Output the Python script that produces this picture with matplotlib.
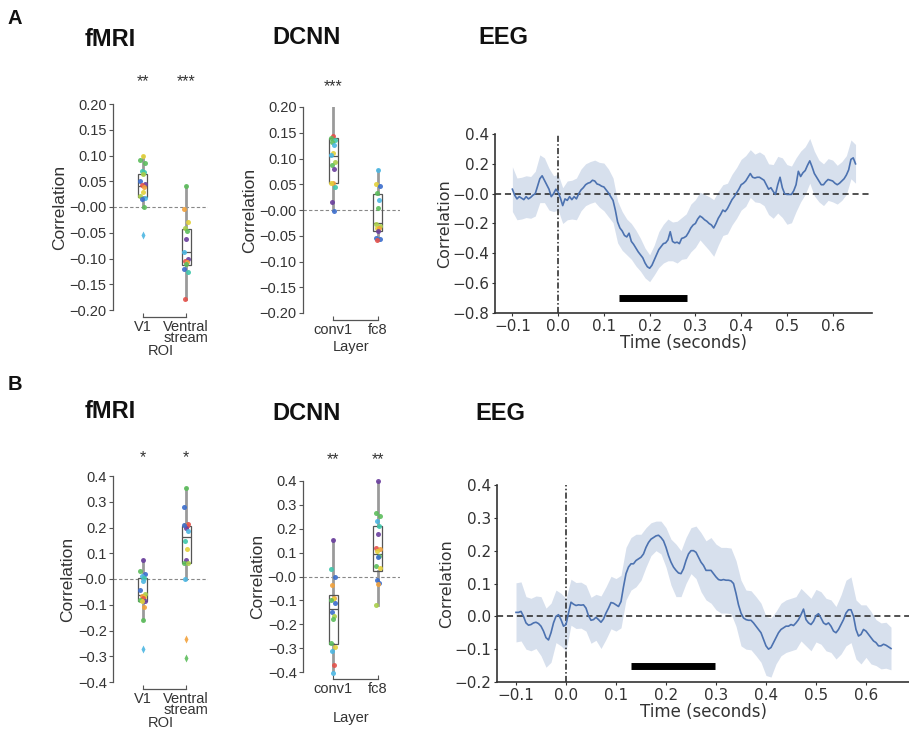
import numpy as np
import matplotlib
matplotlib.use("Agg")
import matplotlib.pyplot as plt

W, H = 909, 732
fig = plt.figure(figsize=(W / 100, H / 100), dpi=100)

# ---------------- DATA ----------------
roi_labels = ["V1", "Ventral\nstream"]
layer_labels = ["conv1", "fc8"]

# Panel A fMRI
A_fmri_v1 = [0.100, 0.092, 0.085, 0.070, 0.068, 0.065, 0.051, 0.045, 0.042, 0.038, 0.029, 0.022, 0.018, 0.016, 0.000]
A_fmri_v1_col = list("yggttlbproylcbg")
A_fmri_v1_fl = [-0.055]
A_fmri_v1_flcol = list("c")
A_fmri_vs = [0.040, -0.003, -0.030, -0.040, -0.046, -0.063, -0.088, -0.100, -0.105, -0.107, -0.110, -0.121, -0.126, -0.178]
A_fmri_vs_col = list("goylgpcprogbtr")
A_fmri_stats = [(0.000, 0.020, 0.040, 0.065, 0.100), (-0.178, -0.112, -0.088, -0.042, 0.040)]
A_fmri_stars = ["**", "***"]

# Panel A DCNN
A_dcnn_c1 = [0.143, 0.140, 0.135, 0.133, 0.126, 0.111, 0.106, 0.094, 0.088, 0.079, 0.053, 0.052, 0.045, 0.016, -0.002]
A_dcnn_c1_col = list("rgtgcyclgpoytpb")
A_dcnn_fc8 = [0.078, 0.051, 0.046, 0.033, 0.020, 0.004, -0.027, -0.031, -0.035, -0.034, -0.040, -0.054, -0.056, -0.058]
A_dcnn_fc8_col = list("cybgcgllyopbbr")
A_dcnn_stats = [(0.000, 0.052, 0.105, 0.140, 0.200), (-0.058, -0.040, -0.025, 0.031, 0.077)]
A_dcnn_stars = ["***", ""]

# Panel B fMRI
B_fmri_v1 = [0.072, 0.030, 0.021, 0.012, 0.005, -0.009, -0.042, -0.060, -0.066, -0.070, -0.075, -0.082, -0.085, -0.085, -0.107, -0.160]
B_fmri_v1_col = list("pgbctcbloyrgpyog")
B_fmri_v1_fl = [-0.271]
B_fmri_v1_flcol = list("c")
B_fmri_vs = [0.355, 0.279, 0.212, 0.210, 0.205, 0.200, 0.208, 0.188, 0.148, 0.115, 0.075, 0.063, 0.062, 0.000]
B_fmri_vs_col = list("gbrorpbctypglc")
B_fmri_vs_fl = [-0.232, -0.308]
B_fmri_vs_flcol = list("og")
B_fmri_stats = [(-0.160, -0.085, -0.063, 0.005, 0.072), (0.000, 0.063, 0.165, 0.206, 0.355)]
B_fmri_stars = ["*", "*"]

# Panel B DCNN
B_dcnn_c1 = [0.154, 0.031, 0.000, -0.034, -0.091, -0.095, -0.100, -0.111, -0.150, -0.165, -0.178, -0.278, -0.295, -0.312, -0.372, -0.403]
B_dcnn_c1_col = list("ptbooygbblggycrc")
B_dcnn_fc8 = [0.400, 0.267, 0.255, 0.233, 0.210, 0.180, 0.119, 0.115, 0.105, 0.087, 0.081, 0.044, 0.035, -0.013, -0.028, -0.030, -0.119]
B_dcnn_fc8_col = list("pggctproygbgybbol")
B_dcnn_stats = [(-0.403, -0.281, -0.136, -0.079, 0.154), (-0.119, 0.025, 0.095, 0.213, 0.400)]
B_dcnn_stars = ["**", "**"]

# EEG time grid (seconds)
eeg_t = np.round(np.arange(-0.100, 0.6501, 0.005), 3)
eeg_t_band = np.round(np.arange(-0.10, 0.6501, 0.01), 2)

A_eeg = [0.03, -0.01, -0.035, -0.02, -0.03, -0.04, -0.02, -0.035, -0.025, -0.01,
         0.00, 0.05, 0.10, 0.12, 0.09, 0.06, 0.03, -0.02, 0.00, 0.03,
         0.01, -0.03, -0.08, -0.035, -0.045, -0.02, -0.04, -0.02, -0.035, 0.00,
         0.025, 0.04, 0.06, 0.07, 0.075, 0.09, 0.085, 0.065, 0.06, 0.05,
         0.045, 0.025, 0.005, -0.02, -0.045, -0.11, -0.19, -0.23, -0.25, -0.28,
         -0.29, -0.265, -0.32, -0.34, -0.365, -0.39, -0.41, -0.43, -0.465, -0.49,
         -0.50, -0.48, -0.445, -0.41, -0.375, -0.355, -0.335, -0.33, -0.31, -0.255,
         -0.32, -0.33, -0.325, -0.335, -0.30, -0.295, -0.285, -0.26, -0.23, -0.21,
         -0.20, -0.17, -0.15, -0.16, -0.175, -0.185, -0.20, -0.21, -0.23, -0.20,
         -0.165, -0.14, -0.11, -0.12, -0.10, -0.07, -0.04, -0.02, 0.005, 0.03,
         0.06, 0.07, 0.085, 0.11, 0.135, 0.11, 0.105, 0.11, 0.11, 0.10,
         0.09, 0.06, 0.03, 0.04, 0.015, -0.005, 0.06, 0.11, 0.04, 0.00,
         -0.005, -0.005, -0.005, 0.02, 0.06, 0.15, 0.115, 0.14, 0.155, 0.19,
         0.22, 0.18, 0.135, 0.11, 0.085, 0.06, 0.06, 0.08, 0.095, 0.09,
         0.085, 0.07, 0.06, 0.07, 0.085, 0.10, 0.125, 0.16, 0.23, 0.24,
         0.20]
A_eeg_sem = [0.15, 0.14, 0.14, 0.14, 0.14, 0.15, 0.16, 0.15, 0.14, 0.12,
             0.12, 0.12, 0.13, 0.13, 0.14, 0.14, 0.14, 0.14, 0.14, 0.15,
             0.16, 0.16, 0.15, 0.14, 0.13, 0.12, 0.12, 0.12, 0.11, 0.10,
             0.09, 0.10, 0.12, 0.13, 0.14, 0.13, 0.14, 0.14, 0.15, 0.16,
             0.16, 0.16, 0.17, 0.18, 0.19, 0.18, 0.17, 0.17, 0.17, 0.17,
             0.17, 0.17, 0.16, 0.16, 0.17, 0.17, 0.17, 0.18, 0.19, 0.20,
             0.20, 0.19, 0.18, 0.17, 0.16, 0.15, 0.15, 0.14, 0.14, 0.14,
             0.14, 0.13, 0.13, 0.13, 0.13, 0.13]
A_sig = (0.133, 0.281)
A_sig_y = -0.70

B_eeg = [0.012, 0.012, 0.015, 0.0, -0.02, -0.027, -0.025, -0.02, -0.018, -0.022,
         -0.03, -0.045, -0.065, -0.072, -0.05, -0.02, 0.0, 0.005, -0.01, -0.03,
         -0.025, 0.01, 0.043, 0.037, 0.033, 0.035, 0.034, 0.035, 0.025, 0.002,
         -0.012, -0.01, -0.003, -0.01, -0.018, -0.008, 0.01, 0.025, 0.042, 0.04,
         0.035, 0.03, 0.045, 0.09, 0.13, 0.15, 0.16, 0.16, 0.17, 0.175,
         0.18, 0.19, 0.21, 0.225, 0.235, 0.24, 0.245, 0.247, 0.24, 0.23,
         0.21, 0.185, 0.165, 0.15, 0.14, 0.132, 0.13, 0.145, 0.17, 0.19,
         0.20, 0.20, 0.195, 0.18, 0.165, 0.155, 0.14, 0.14, 0.14, 0.13,
         0.12, 0.112, 0.11, 0.112, 0.11, 0.11, 0.108, 0.10, 0.07, 0.035,
         0.01, -0.005, -0.01, -0.012, -0.012, -0.02, -0.03, -0.04, -0.05, -0.07,
         -0.09, -0.10, -0.095, -0.08, -0.065, -0.05, -0.04, -0.035, -0.03, -0.03,
         -0.025, -0.028, -0.02, -0.01, 0.005, 0.022, -0.01, -0.02, -0.025, -0.015,
         0.002, 0.008, -0.005, -0.02, -0.025, -0.02, -0.03, -0.045, -0.05, -0.04,
         -0.025, -0.01, 0.01, 0.02, 0.02, 0.0, -0.04, -0.06, -0.055, -0.04,
         -0.045, -0.055, -0.065, -0.075, -0.08, -0.09, -0.09, -0.085, -0.088, -0.093,
         -0.098]
B_eeg_sem = [0.09, 0.09, 0.08, 0.08, 0.08, 0.09, 0.09, 0.09, 0.08, 0.08,
             0.08, 0.07, 0.07, 0.07, 0.07, 0.07, 0.07, 0.08, 0.08, 0.08,
             0.08, 0.08, 0.08, 0.08, 0.08, 0.07, 0.06, 0.05, 0.045, 0.05,
             0.06, 0.07, 0.08, 0.07, 0.07, 0.07, 0.08, 0.09, 0.09, 0.10,
             0.10, 0.10, 0.10, 0.10, 0.10, 0.10, 0.09, 0.09, 0.09, 0.09,
             0.09, 0.09, 0.08, 0.08, 0.08, 0.08, 0.08, 0.08, 0.08, 0.08,
             0.08, 0.08, 0.08, 0.08, 0.08, 0.09, 0.10, 0.10, 0.09, 0.09,
             0.08, 0.08, 0.07, 0.07, 0.07, 0.065]
B_sig = (0.130, 0.297)
B_sig_y = -0.152

# ---------------- STYLE ----------------
palette = {'r': '#e5524b', 'o': '#f2a23c', 'y': '#e3d13b', 'l': '#a9cf4b',
           'g': '#5dbd5c', 't': '#3fc7ab', 'c': '#4cb6e2', 'b': '#3b6dcc',
           'p': '#6b3f9e'}
ARIAL = "Liberation Sans"
DEJAVU = "DejaVu Sans"
TXT = "#333333"


def px_axes(left, top, right, bottom):
    return fig.add_axes([left / W, 1 - bottom / H, (right - left) / W, (bottom - top) / H])


jit = [0.0, -0.05, 0.05, -0.025, 0.025]


def box_panel(ax, groups, cols, fliers, flcols, stats, labels, xlabel, ylim, yticks, yfmt, stars, star_y, xlab_y):
    ax.set_xlim(-0.68, 1.5)
    ax.set_ylim(*ylim)
    ax.axhline(0, color="#888888", lw=0.8, ls=(0, (3, 2)), zorder=0)
    bxps = []
    for s in stats:
        bxps.append(dict(whislo=s[0], q1=s[1], med=s[2], q3=s[3], whishi=s[4], fliers=[]))
    ax.bxp(bxps, positions=[0, 1], widths=0.21, showcaps=False, showfliers=False,
           patch_artist=True,
           boxprops=dict(facecolor="none", edgecolor="#555555", lw=0.9, zorder=3),
           whiskerprops=dict(color="#9a9a9a", lw=2.0, zorder=1),
           medianprops=dict(color="#555555", lw=0.9, zorder=3))
    for gi in range(2):
        for k, (v, c) in enumerate(zip(groups[gi], cols[gi])):
            ax.plot(gi + jit[k % 5], v, 'o', ms=3.6, color=palette[c], mec='none', alpha=0.9,
                    zorder=4, clip_on=False)
        for v, c in zip(fliers[gi], flcols[gi]):
            ax.plot(gi, v, 'd', ms=3.6, color=palette[c], mec='none', alpha=0.9, zorder=4, clip_on=False)
        if stars[gi]:
            ax.text(gi, star_y, stars[gi], transform=ax.get_xaxis_transform(), ha='center', va='center',
                    fontsize=11.5, color=TXT, family=ARIAL)
    for sp in ("top", "right"):
        ax.spines[sp].set_visible(False)
    ax.spines["left"].set_bounds(ylim[0], ylim[1])
    ax.spines["bottom"].set_bounds(0, 1)
    ax.spines["bottom"].set_position(("outward", 5))
    for sp in ("left", "bottom"):
        ax.spines[sp].set_color("#555555")
        ax.spines[sp].set_linewidth(0.9)
    ax.set_xticks([0, 1])
    ax.set_xticklabels(labels, family=ARIAL, fontsize=10.5, color=TXT, linespacing=0.78)
    ax.set_yticks(yticks)
    ax.set_yticklabels([yfmt.format(t).replace("-", "\u2212") for t in yticks], family=ARIAL,
                       fontsize=10.5, color=TXT)
    ax.tick_params(axis='x', direction='in', length=3, pad=2, color="#555555")
    ax.tick_params(axis='y', direction='out', length=3, pad=1.5, color="#555555")
    ax.set_xlabel(xlabel, family=ARIAL, fontsize=10.5, color=TXT)
    ax.xaxis.set_label_coords(0.5, xlab_y)
    ax.xaxis.label.set_va('center')
    ax.set_ylabel("Correlation", family=ARIAL, fontsize=12.5, color=TXT, labelpad=2)
    ax.patch.set_visible(False)


def eeg_panel(ax, mean, sem, sig, sig_y, ylim, yticks):
    mean = np.asarray(mean)
    sem = np.asarray(sem)
    ax.set_xlim(-0.138, 0.686)
    ax.set_ylim(*ylim)
    m2 = mean[::2]
    ax.fill_between(eeg_t_band, m2 - sem, m2 + sem, color="#4c72b0", alpha=0.22, lw=0, zorder=1)
    ax.plot(eeg_t, mean, color="#4c72b0", lw=1.2, zorder=3)
    ax.axhline(0, color="#222222", lw=1.1, ls=(0, (4, 2.5)), zorder=2)
    ax.axvline(0, color="#222222", lw=1.1, ls=(0, (4, 1.5, 1, 1.5)), zorder=2)
    ax.plot(list(sig), [sig_y, sig_y], color="black", lw=5, solid_capstyle="butt", zorder=4)
    for sp in ("top", "right"):
        ax.spines[sp].set_visible(False)
    for sp in ("left", "bottom"):
        ax.spines[sp].set_color("#333333")
        ax.spines[sp].set_linewidth(1.2)
    xt = [-0.1, 0.0, 0.1, 0.2, 0.3, 0.4, 0.5, 0.6]
    ax.set_xticks(xt)
    ax.set_xticklabels(["{:.1f}".format(t).replace("-", "\u2212") for t in xt], family=DEJAVU,
                       fontsize=11, color=TXT)
    ax.set_yticks(yticks)
    ax.set_yticklabels(["{:.1f}".format(t).replace("-", "\u2212") for t in yticks], family=DEJAVU,
                       fontsize=11, color=TXT)
    ax.tick_params(direction='out', length=2.5, pad=1.5, color="#333333")
    ax.set_xlabel("Time (seconds)", family=DEJAVU, fontsize=12, color=TXT, labelpad=0)
    ax.set_ylabel("Correlation", family=DEJAVU, fontsize=11.5, color=TXT, labelpad=0)
    ax.patch.set_visible(False)


# ---------------- PANEL A ----------------
ax = px_axes(113, 104, 208, 310)
box_panel(ax, [A_fmri_v1, A_fmri_vs], [A_fmri_v1_col, A_fmri_vs_col], [A_fmri_v1_fl, []], [A_fmri_v1_flcol, []],
          A_fmri_stats, roi_labels, "ROI", (-0.2, 0.2), np.round(np.arange(-0.2, 0.2001, 0.05), 2), "{:.2f}",
          A_fmri_stars, 1.11, -0.198)
ax = px_axes(303, 107, 400, 313)
box_panel(ax, [A_dcnn_c1, A_dcnn_fc8], [A_dcnn_c1_col, A_dcnn_fc8_col], [[], []], [[], []],
          A_dcnn_stats, layer_labels, "Layer", (-0.2, 0.2), np.round(np.arange(-0.2, 0.2001, 0.05), 2), "{:.2f}",
          A_dcnn_stars, 1.10, -0.163)
ax = px_axes(495, 134, 872, 313)
eeg_panel(ax, A_eeg, A_eeg_sem, A_sig, A_sig_y, (-0.8, 0.4), np.round(np.arange(-0.8, 0.401, 0.2), 1))

# ---------------- PANEL B ----------------
ax = px_axes(113, 476, 208, 682)
box_panel(ax, [B_fmri_v1, B_fmri_vs], [B_fmri_v1_col, B_fmri_vs_col], [B_fmri_v1_fl, B_fmri_vs_fl],
          [B_fmri_v1_flcol, B_fmri_vs_flcol],
          B_fmri_stats, roi_labels, "ROI", (-0.4, 0.4), np.round(np.arange(-0.4, 0.401, 0.1), 1), "{:.1f}",
          B_fmri_stars, 1.09, -0.198)
ax = px_axes(303, 481, 400, 672)
box_panel(ax, [B_dcnn_c1, B_dcnn_fc8], [B_dcnn_c1_col, B_dcnn_fc8_col], [[], []], [[], []],
          B_dcnn_stats, layer_labels, "Layer", (-0.4, 0.4), np.round(np.arange(-0.4, 0.401, 0.1), 1), "{:.1f}",
          B_dcnn_stars, 1.11, -0.24)
ax = px_axes(497, 485, 909, 682)
eeg_panel(ax, B_eeg, B_eeg_sem, B_sig, B_sig_y, (-0.2, 0.4), np.round(np.arange(-0.2, 0.401, 0.1), 1))


# ---------------- TITLES ----------------
def ftext(x, y, s, size, family=ARIAL):
    fig.text(x / W, 1 - y / H, s, ha='center', va='center', fontsize=size, fontweight='bold',
             family=family, color="#111111")


ftext(15, 18, "A", 14.5)
ftext(15, 385, "B", 14.5)
ftext(110, 39, "fMRI", 17)
ftext(307, 37, "DCNN", 17)
ftext(503, 38, "EEG", 17)
ftext(110, 412, "fMRI", 17)
ftext(307, 414, "DCNN", 17)
ftext(500, 413, "EEG", 17)

fig.savefig("out.png", dpi=100)
